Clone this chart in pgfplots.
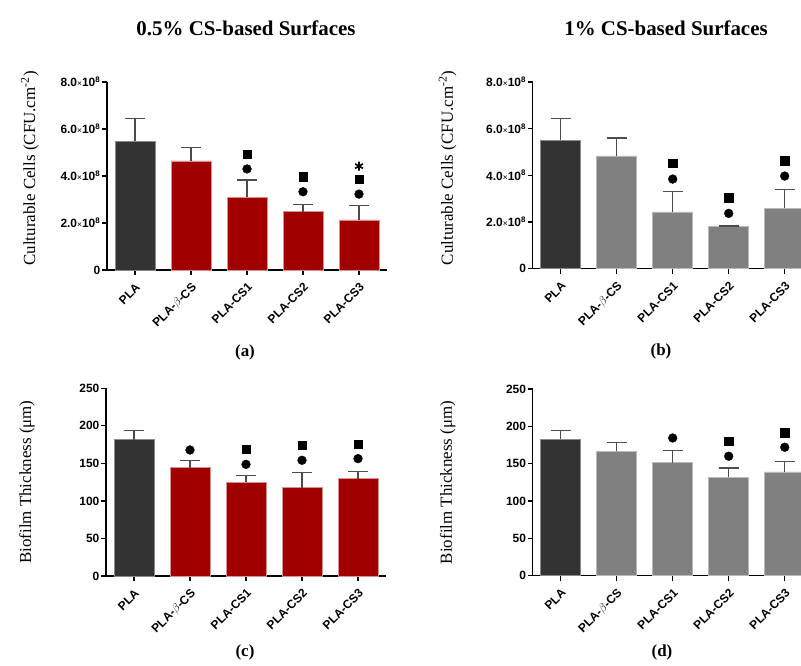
\documentclass[border=0pt]{standalone}
\usepackage{fontspec}
\setmainfont{Liberation Serif}
\setsansfont{Liberation Sans}
\usepackage{pgfplots}
\pgfplotsset{compat=1.18}
\definecolor{darkbar}{HTML}{333333}
\definecolor{darkedge}{HTML}{8A8A8A}
\definecolor{redbar}{HTML}{A00000}
\definecolor{rededge}{HTML}{D89090}
\definecolor{greybar}{HTML}{808080}
\definecolor{greyedge}{HTML}{B8B8B8}
\pgfplotsset{
  panel/.style={
    scale only axis, x=56bp, xmin=-0.5, xmax=4.5, ymin=0,
    anchor=south west,
    axis x line=bottom, axis y line=left,
    axis line style={line width=1.4bp, -},
    xtick={0,...,4},
    xticklabels={PLA, PLA-$\beta$-CS, PLA-CS1, PLA-CS2, PLA-CS3},
    x tick label style={rotate=45, anchor=north east, font=\sffamily\bfseries\fontsize{12}{12}\selectfont, inner sep=2bp, xshift=-3bp, yshift=-3bp},
    y tick label style={font=\sffamily\bfseries\fontsize{12}{12}\selectfont, inner sep=1.5bp},
    tick style={line width=1.2bp, black},
    tick align=outside, major tick length=5bp,
    ylabel style={font=\fontsize{17}{17}\selectfont, anchor=center},
  },
  cfu/.style={ytick={0,2,4,6,8}, ymax=8,
    yticklabels={0,
      2.0{\mdseries\fontsize{8.5}{8.5}\selectfont×}10\textsuperscript{8},
      4.0{\mdseries\fontsize{8.5}{8.5}\selectfont×}10\textsuperscript{8},
      6.0{\mdseries\fontsize{8.5}{8.5}\selectfont×}10\textsuperscript{8},
      8.0{\mdseries\fontsize{8.5}{8.5}\selectfont×}10\textsuperscript{8}},
    ylabel={Culturable Cells (CFU.cm\textsuperscript{-2})}},
  thick/.style={ytick={0,50,...,250}, ymax=250,
    yticklabels={0,50,100,150,200,250},
    ylabel={Biofilm Thickness (μm)}},
  mybar/.style={ybar, bar width=40bp, bar shift=0bp, line width=0.8bp,
    error bars/y dir=plus, error bars/y explicit, error bars/error mark=-,
    error bars/error bar style={line width=1.1bp, draw=black!70},
    error bars/error mark options={rotate=90, line width=1.1bp, mark size=10bp, draw=black!70}},
  circ/.style={only marks, mark=*, mark size=4.4bp, black},
  sq/.style={only marks, mark=square*, mark size=4.1bp, black},
}
\begin{document}
\begin{tikzpicture}
\useasboundingbox (0,0) rectangle (801bp,-666bp);
% titles
\node[font=\bfseries\fontsize{21}{21}\selectfont] at (246bp,-28bp) {0.5\% CS-based Surfaces};
\node[font=\bfseries\fontsize{21}{21}\selectfont] at (666bp,-28bp) {1\% CS-based Surfaces};
\node[font=\bfseries\fontsize{17}{17}\selectfont] at (245bp,-352bp) {(a)};
\node[font=\bfseries\fontsize{17}{17}\selectfont] at (661bp,-351bp) {(b)};
\node[font=\bfseries\fontsize{17}{17}\selectfont] at (245bp,-652bp) {(c)};
\node[font=\bfseries\fontsize{17}{17}\selectfont] at (662bp,-652bp) {(d)};

% (a)
\begin{axis}[panel, cfu, at={(107bp,-270bp)}, y=23.5bp,
  ylabel style={at={(rel axis cs:0,0.54)}, yshift=77bp}]
\addplot[mybar, fill=darkbar, draw=darkedge] table[x=x, y=y, y error=e] {
x y e
0 5.49 0.94
};
\addplot[mybar, fill=redbar, draw=rededge] table[x=x, y=y, y error=e] {
x y e
1 4.64 0.56
2 3.09 0.74
3 2.48 0.32
4 2.13 0.61
};
\addplot[circ] coordinates {(2,4.30) (3,3.33) (4,3.23)};
\addplot[sq] coordinates {(2,4.93) (3,3.97) (4,3.86)};
\addplot[only marks, mark=asterisk, mark size=4.5bp, line width=1.6bp, black] coordinates {(4,4.42)};
\end{axis}

% (b)
\begin{axis}[panel, cfu, at={(532.7bp,-268.7bp)}, y=23.34bp,
  ylabel style={at={(rel axis cs:0,0.54)}, yshift=85bp}]
\addplot[mybar, fill=darkbar, draw=darkedge] table[x=x, y=y, y error=e] {
x y e
0 5.50 0.93
};
\addplot[mybar, fill=greybar, draw=greyedge] table[x=x, y=y, y error=e] {
x y e
1 4.83 0.77
2 2.43 0.86
3 1.80 0.03
4 2.59 0.80
};
\addplot[circ] coordinates {(2,3.84) (3,2.37) (4,3.97)};
\addplot[sq] coordinates {(2,4.53) (3,3.04) (4,4.63)};
\end{axis}

% (c)
\begin{axis}[panel, thick, at={(106bp,-576bp)}, y=0.751bp,
  ylabel style={at={(rel axis cs:0,0.5)}, yshift=79bp}]
\addplot[mybar, fill=darkbar, draw=darkedge] table[x=x, y=y, y error=e] {
x y e
0 181.6 11.9
};
\addplot[mybar, fill=redbar, draw=rededge] table[x=x, y=y, y error=e] {
x y e
1 144.3 9.3
2 124.8 8.8
3 117.6 20.0
4 129.6 9.3
};
\addplot[circ] coordinates {(1,167.8) (2,148.7) (3,154.1) (4,156.3)};
\addplot[sq] coordinates {(2,169.1) (3,174.5) (4,175.8)};
\end{axis}

% (d)
\begin{axis}[panel, thick, at={(532.7bp,-575.7bp)}, y=0.7468bp,
  ylabel style={at={(rel axis cs:0,0.5)}, yshift=85bp}]
\addplot[mybar, fill=darkbar, draw=darkedge] table[x=x, y=y, y error=e] {
x y e
0 182.6 12.1
};
\addplot[mybar, fill=greybar, draw=greyedge] table[x=x, y=y, y error=e] {
x y e
1 166.6 12.0
2 151.3 16.6
3 131.8 12.4
4 138.9 14.3
};
\addplot[circ] coordinates {(2,184.4) (3,160.0) (4,172.0)};
\addplot[sq] coordinates {(3,180.4) (4,191.5)};
\end{axis}
\end{tikzpicture}
\end{document}
